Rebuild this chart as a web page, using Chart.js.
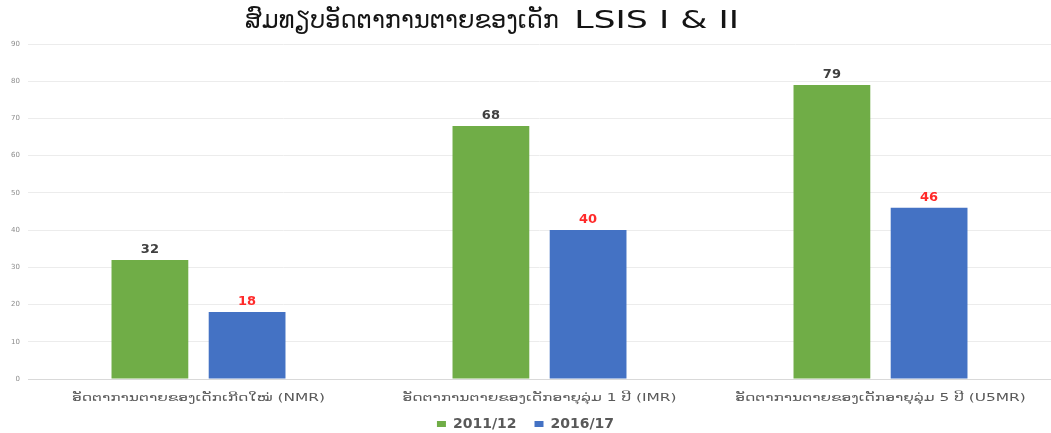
<!DOCTYPE html>
<html>
<head>
<meta charset="utf-8">
<script src="https://cdn.jsdelivr.net/npm/chart.js@4"></script>
<style>
  html, body { margin: 0; padding: 0; background: #fff; }
  #wrap { width: 1051px; height: 433px; position: relative; }
</style>
</head>
<body>
<div id="wrap"><canvas id="c"></canvas></div>
<script>
const titleLao = 'ສົມທຽບອັດຕາການຕາຍຂອງເດັກ';
const titleLatin = 'LSIS I & II';
const categories = [
  'ອັດຕາການຕາຍຂອງເດັກເກີດໃໝ່ (NMR)',
  'ອັດຕາການຕາຍຂອງເດັກອາຍຸລຸ່ມ 1 ປີ (IMR)',
  'ອັດຕາການຕາຍຂອງເດັກອາຍຸລຸ່ມ 5 ປີ (U5MR)'
];
const seriesNames = ['2011/12', '2016/17'];
const values2011 = [32, 68, 79];
const values2016 = [18, 40, 46];
const yTicks = [0, 10, 20, 30, 40, 50, 60, 70, 80, 90];

const FONT = "'DejaVu Sans', 'Noto Sans', sans-serif";

// Title: Lao text followed by the widened survey name
const titlePlugin = {
  id: 'wideTitle',
  afterDraw(chart) {
    const ctx = chart.ctx;
    const latinStretch = 1.45;
    ctx.save();
    ctx.font = "24px " + FONT;
    ctx.fillStyle = '#141414';
    ctx.textBaseline = 'alphabetic';
    ctx.textAlign = 'left';
    const wLao = ctx.measureText(titleLao + '  ').width;
    const wLat = ctx.measureText(titleLatin).width * latinStretch;
    const x = 492 - (wLao + wLat) / 2;
    ctx.fillText(titleLao, x, 28);
    ctx.translate(x + wLao, 28);
    ctx.scale(latinStretch, 1);
    ctx.fillText(titleLatin, 0, 0);
    ctx.restore();
  }
};

// Category names under the x axis, drawn slightly widened
const categoryLabels = {
  id: 'categoryLabels',
  afterDraw(chart) {
    const ctx = chart.ctx;
    const xs = chart.scales.x;
    ctx.save();
    ctx.font = "11px " + FONT;
    ctx.fillStyle = '#595959';
    ctx.textAlign = 'center';
    ctx.textBaseline = 'middle';
    categories.forEach((lab, i) => {
      const cx = xs.getPixelForTick(i);
      ctx.save();
      ctx.translate(cx, chart.chartArea.bottom + 19);
      ctx.scale(1.4, 1);
      ctx.fillText(lab, 0, 0);
      ctx.restore();
    });
    ctx.restore();
  }
};

// Each bar's value just above it, in the dataset's label colour
const valueLabels = {
  id: 'valueLabels',
  afterDatasetsDraw(chart) {
    const ctx = chart.ctx;
    chart.data.datasets.forEach((ds, i) => {
      const meta = chart.getDatasetMeta(i);
      meta.data.forEach((bar, j) => {
        ctx.save();
        ctx.font = "bold 13px " + FONT;
        ctx.fillStyle = ds.valueColor;
        ctx.textAlign = 'center';
        ctx.textBaseline = 'alphabetic';
        ctx.fillText(String(ds.data[j]), bar.x, bar.y - 7);
        ctx.restore();
      });
    });
  }
};

new Chart(document.getElementById('c'), {
  type: 'bar',
  data: {
    labels: categories,
    datasets: [
      { label: seriesNames[0], data: values2011, backgroundColor: '#70AD47', valueColor: '#404040',
        barPercentage: 0.79, categoryPercentage: 0.57 },
      { label: seriesNames[1], data: values2016, backgroundColor: '#4472C4', valueColor: '#FF2A2A',
        barPercentage: 0.79, categoryPercentage: 0.57 }
    ]
  },
  options: {
    responsive: true,
    maintainAspectRatio: false,
    animation: false,
    layout: { padding: { left: 0, right: 0, top: 44, bottom: 0 } },
    plugins: {
      title: { display: false },
      legend: {
        position: 'bottom',
        maxHeight: 34,
        labels: {
          color: '#595959',
          font: { family: FONT, size: 14, weight: 'bold' },
          boxWidth: 9, boxHeight: 6, padding: 18
        }
      },
      tooltip: { enabled: false }
    },
    scales: {
      x: {
        grid: { display: false },
        border: { color: '#d9d9d9' },
        ticks: { display: false },
        afterFit(scale) { scale.height = 20; }
      },
      y: {
        min: 0, max: 90,
        afterBuildTicks(axis) { axis.ticks = yTicks.map(v => ({ value: v })); },
        afterFit(scale) { scale.width = 28; },
        grid: { color: '#ececec', drawTicks: false },
        border: { display: false },
        ticks: { color: '#8c8c8c', font: { family: FONT, size: 7 }, padding: 8 }
      }
    }
  },
  plugins: [valueLabels, categoryLabels, titlePlugin]
});
</script>
</body>
</html>
